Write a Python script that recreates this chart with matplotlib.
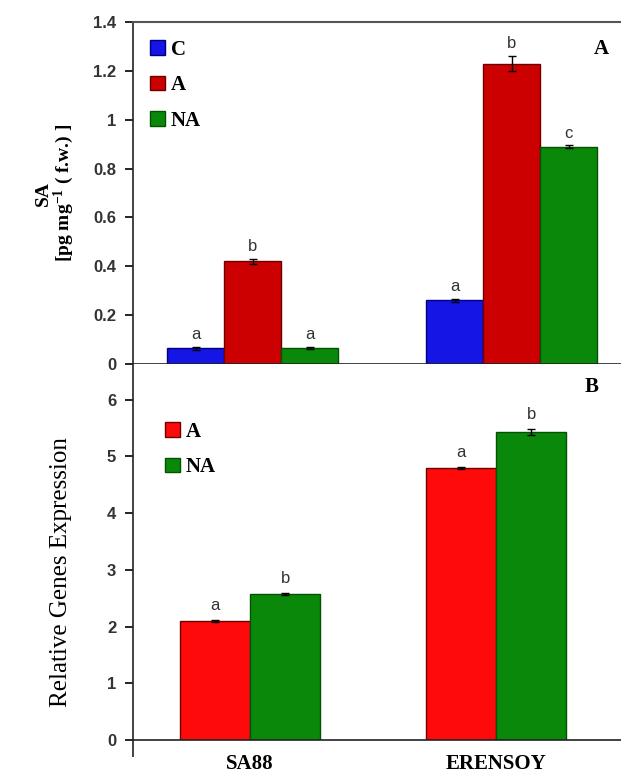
import numpy as np
import matplotlib
matplotlib.use("Agg")
import matplotlib.pyplot as plt
from matplotlib.patches import Patch

cultivars = ["SA88", "ERENSOY"]

# panel A: SA content
sa_treat = ["C", "A", "NA"]
sa_vals = {"C": [0.065, 0.26], "A": [0.42, 1.23], "NA": [0.065, 0.89]}
sa_err = {"C": [0.006, 0.005], "A": [0.01, 0.03], "NA": [0.004, 0.005]}
sa_letters = {"C": ["a", "a"], "A": ["b", "b"], "NA": ["a", "c"]}

# panel B: relative gene expression
ge_treat = ["A", "NA"]
ge_vals = {"A": [2.1, 4.8], "NA": [2.58, 5.43]}
ge_err = {"A": [0.02, 0.02], "NA": [0.02, 0.05]}
ge_letters = {"A": ["a", "a"], "NA": ["b", "b"]}

colors_a = {"C": "#1515e6", "A": "#cc0000", "NA": "#0a880a"}
colors_b = {"A": "#ff0a0a", "NA": "#0a880a"}
edges = {"C": "#00007a", "A": "#6a0000", "NA": "#035203"}

serif = "Liberation Serif"
sans = "Liberation Sans"

plt.rcParams["mathtext.fontset"] = "custom"
plt.rcParams["mathtext.rm"] = "Liberation Serif"
plt.rcParams["mathtext.bf"] = "Liberation Serif:bold"
plt.rcParams["mathtext.default"] = "bf"

fig = plt.figure(figsize=(6.21, 7.76), dpi=100)
ax1 = fig.add_axes([0.214, 0.531, 0.786, 0.4405])
ax2 = fig.add_axes([0.214, 0.0464, 0.786, 0.4846])

x = np.arange(len(cultivars))


def style_axis(ax):
    ax.spines["right"].set_visible(False)
    for s in ["left", "bottom", "top"]:
        ax.spines[s].set_color("#222222")
        ax.spines[s].set_linewidth(1.2)
    ax.tick_params(axis="y", direction="out", length=6, width=1.2, pad=6,
                   labelsize=12, labelcolor="#333333")
    for lab in ax.get_yticklabels():
        lab.set_fontfamily(sans)
        lab.set_fontweight("bold")


# ---- panel A
w1 = 0.22
for i, t in enumerate(sa_treat):
    pos = x + (i - 1) * w1
    ax1.bar(pos, sa_vals[t], w1, color=colors_a[t], edgecolor=edges[t], linewidth=1,
            yerr=sa_err[t], error_kw=dict(ecolor="black", elinewidth=1, capsize=3, capthick=1),
            label=t, zorder=2)
    for xp, v, e, l in zip(pos, sa_vals[t], sa_err[t], sa_letters[t]):
        ax1.text(xp, v + e + 0.02, l, ha="center", va="bottom", fontsize=12,
                 family=sans, color="#333333")

ax1.set_xlim(-0.463, 1.421)
ax1.set_ylim(0, 1.4)
ax1.set_yticks([0, 0.2, 0.4, 0.6, 0.8, 1.0, 1.2, 1.4])
ax1.set_yticklabels(["0", "0.2", "0.4", "0.6", "0.8", "1", "1.2", "1.4"])
ax1.set_xticks([])
style_axis(ax1)
ax1.spines["top"].set_color("#555555")
ax1.spines["top"].set_linewidth(1.5)
ax1.set_ylabel("SA\n[pg mg$^{-1}$ ( f.w.) ]", family=serif, fontweight="bold",
               fontsize=14, labelpad=12, linespacing=1.0)
ax1.text(0.975, 0.92, "A", transform=ax1.transAxes, ha="right", va="center",
         family=serif, fontweight="bold", fontsize=15)
h1 = [Patch(facecolor=colors_a[t], edgecolor=edges[t]) for t in sa_treat]
ax1.legend(h1, sa_treat, loc="upper left", bbox_to_anchor=(0.01, 0.985), frameon=False,
           prop=dict(family=serif, weight="bold", size=15), handlelength=0.7,
           handleheight=0.7, handletextpad=0.3, labelspacing=0.75, borderaxespad=0.2)

# ---- panel B
w2 = 0.285
for i, t in enumerate(ge_treat):
    pos = x + (i - 0.5) * w2
    ax2.bar(pos, ge_vals[t], w2, color=colors_b[t], edgecolor=edges[t], linewidth=1,
            yerr=ge_err[t], error_kw=dict(ecolor="black", elinewidth=1, capsize=3, capthick=1),
            label=t, zorder=2)
    for xp, v, e, l in zip(pos, ge_vals[t], ge_err[t], ge_letters[t]):
        ax2.text(xp, v + e + 0.12, l, ha="center", va="bottom", fontsize=12,
                 family=sans, color="#333333")

ax2.set_xlim(-0.476, 1.508)
ax2.set_ylim(0, 6.63)
ax2.set_yticks(range(0, 7))
ax2.spines["top"].set_visible(False)
style_axis(ax2)
ax2.set_xticks(x)
ax2.set_xticklabels(cultivars, family=serif, fontweight="bold", fontsize=15)
ax2.tick_params(axis="x", length=0, pad=10)
ax2.set_xticks([-0.476], minor=True)
ax2.tick_params(axis="x", which="minor", length=12, width=1.2, color="#222222")
ax2.set_ylabel("Relative Genes Expression", family=serif, fontsize=18)
ax2.yaxis.set_label_coords(-0.125, 0.447)
ax2.text(0.955, 0.94, "B", transform=ax2.transAxes, ha="right", va="center",
         family=serif, fontweight="bold", fontsize=15)
h2 = [Patch(facecolor=colors_b[t], edgecolor=edges[t]) for t in ge_treat]
ax2.legend(h2, ge_treat, loc="upper left", bbox_to_anchor=(0.04, 0.88), frameon=False,
           prop=dict(family=serif, weight="bold", size=15), handlelength=0.7,
           handleheight=0.7, handletextpad=0.3, labelspacing=0.75, borderaxespad=0.2)

fig.savefig("out.png", dpi=100, facecolor="white")
